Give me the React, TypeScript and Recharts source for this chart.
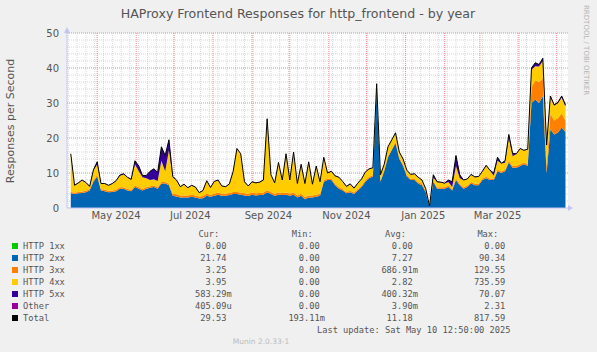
import { ComposedChart, Area, Line, XAxis, YAxis, ReferenceLine } from "recharts"

// one sample every 3 days, starting Apr 10 2024 (day 0 = Apr 7 2024)
const total = [15.5, 6.5, 7.2, 8.0, 7.3, 6.2, 10.9, 13.2, 7.0, 7.0, 6.5, 7.0, 7.8, 9.4, 9.8, 8.8, 8.2, 13.5, 12.0, 9.3, 9.3, 10.5, 11.2, 10.2, 17.5, 15.0, 19.5, 9.0, 8.0, 6.1, 6.8, 5.8, 6.5, 6.0, 4.4, 5.0, 7.8, 5.9, 7.6, 8.0, 6.3, 6.1, 6.9, 10.5, 17.0, 15.5, 7.5, 6.3, 7.5, 7.2, 7.4, 8.0, 25.5, 9.5, 7.2, 13.0, 8.0, 15.5, 8.0, 16.0, 7.0, 12.5, 7.0, 13.2, 6.8, 12.0, 7.5, 14.5, 10.0, 10.5, 9.2, 8.8, 7.6, 6.2, 6.9, 5.7, 7.1, 8.3, 10.3, 11.2, 11.5, 35.5, 9.5, 12.5, 17.5, 19.5, 21.5, 16.0, 14.0, 10.8, 9.6, 9.8, 8.8, 8.0, 5.5, 0.5, 9.5, 7.5, 7.4, 7.1, 8.0, 7.5, 15.0, 9.5, 8.0, 8.3, 9.6, 8.9, 9.0, 10.5, 12.2, 10.8, 10.0, 14.5, 12.8, 13.5, 21.0, 15.6, 15.5, 17.0, 16.5, 16.8, 40.0, 41.5, 41.0, 42.8, 18.0, 32.0, 29.5, 30.2, 32.0, 29.5]
const http2xx = [4.2, 4.0, 4.2, 4.3, 4.5, 5.0, 7.5, 9.0, 5.0, 4.8, 4.5, 4.6, 4.8, 5.5, 5.5, 5.0, 4.8, 6.0, 5.5, 5.0, 5.5, 5.8, 6.0, 5.5, 7.0, 7.0, 6.5, 3.5, 3.3, 3.0, 3.0, 3.0, 3.2, 3.0, 2.7, 2.8, 3.5, 3.2, 3.5, 3.8, 3.5, 3.5, 3.7, 4.0, 4.0, 3.8, 3.6, 3.4, 3.8, 3.6, 3.7, 3.8, 4.5, 4.0, 3.5, 3.8, 3.7, 3.8, 3.5, 3.8, 3.0, 3.5, 2.5, 3.0, 3.0, 3.2, 3.5, 7.5, 8.0, 8.0, 6.5, 5.5, 5.0, 4.2, 4.5, 4.0, 5.0, 6.0, 7.5, 8.5, 9.0, 33.5, 7.5, 10.5, 14.5, 16.5, 18.5, 14.0, 12.0, 9.0, 8.0, 8.0, 7.0, 6.5, 4.5, 0.3, 7.5, 5.5, 5.5, 5.5, 6.0, 5.0, 8.0, 6.5, 5.5, 6.0, 7.0, 6.5, 6.5, 8.0, 8.5, 8.0, 8.0, 10.5, 10.0, 10.5, 13.0, 11.5, 11.5, 12.0, 12.5, 12.0, 30.0, 31.0, 30.0, 32.0, 10.0, 22.5, 21.0, 21.5, 23.0, 21.7]
const http3xx = [0.4, 0.4, 0.4, 0.4, 0.4, 0.4, 0.4, 0.4, 0.4, 0.4, 0.4, 0.4, 0.4, 0.4, 0.4, 0.4, 0.4, 0.4, 0.4, 0.4, 0.4, 0.4, 0.4, 0.4, 0.4, 0.4, 0.4, 0.6, 0.6, 0.6, 0.6, 0.6, 0.6, 0.6, 0.6, 0.6, 0.6, 0.6, 0.6, 0.6, 0.6, 0.6, 0.6, 0.6, 0.6, 0.6, 0.6, 0.6, 0.6, 0.6, 0.6, 0.6, 0.6, 0.6, 0.6, 0.6, 0.6, 0.6, 0.6, 0.6, 0.6, 0.6, 0.6, 0.6, 0.6, 0.6, 0.6, 0.4, 0.4, 0.4, 0.4, 0.4, 0.4, 0.4, 0.4, 0.4, 0.4, 0.4, 0.4, 0.4, 0.4, 0.4, 0.4, 0.4, 0.4, 0.4, 0.4, 0.4, 0.4, 0.4, 0.4, 0.4, 0.4, 0.4, 0.4, 0.1, 0.4, 0.4, 0.4, 0.4, 0.4, 0.4, 0.4, 0.4, 0.4, 0.4, 0.4, 0.4, 0.4, 0.4, 0.4, 0.4, 0.4, 0.4, 0.4, 0.4, 0.5, 0.5, 0.5, 0.5, 0.5, 0.5, 4.5, 5.5, 6.0, 5.0, 2.0, 4.5, 4.0, 4.2, 4.0, 3.3]
const http4xx = [10.8, 2.0, 2.5, 3.2, 2.3, 0.7, 2.8, 3.0, 1.5, 1.7, 1.5, 1.9, 2.5, 3.3, 3.7, 3.3, 2.9, 6.1, 4.6, 3.4, 2.6, 1.8, 1.8, 1.8, 6.1, 3.1, 9.6, 4.6, 4.0, 2.4, 3.1, 2.1, 2.6, 2.3, 1.0, 1.5, 3.6, 2.0, 3.4, 3.5, 2.1, 1.9, 2.5, 5.8, 12.3, 11.0, 3.2, 2.2, 3.0, 2.9, 3.0, 3.5, 20.3, 4.8, 3.0, 8.5, 3.6, 11.0, 3.8, 11.5, 3.3, 8.3, 3.8, 9.5, 3.1, 8.1, 3.3, 6.5, 1.5, 2.0, 2.2, 2.8, 2.1, 1.5, 1.9, 1.2, 1.6, 1.8, 2.3, 2.2, 2.0, 1.5, 1.5, 1.5, 2.5, 2.5, 2.5, 1.5, 1.5, 1.3, 1.1, 1.3, 1.3, 1.0, 0.5, 0.1, 0.8, 1.5, 1.4, 1.1, 1.0, 0.6, 3.6, 1.6, 2.0, 1.8, 2.1, 1.9, 2.0, 2.0, 3.2, 2.3, 0.8, 2.6, 2.3, 2.0, 6.5, 2.8, 3.4, 4.4, 3.4, 4.2, 5.0, 4.0, 4.4, 5.0, 5.8, 4.7, 4.2, 4.2, 4.6, 3.9]
const http5xx = [0.1, 0.1, 0.1, 0.1, 0.1, 0.1, 0.2, 0.8, 0.1, 0.1, 0.1, 0.1, 0.1, 0.2, 0.2, 0.1, 0.1, 1.0, 1.5, 0.5, 0.8, 2.5, 3.0, 2.5, 4.0, 4.5, 3.0, 0.3, 0.1, 0.1, 0.1, 0.1, 0.1, 0.1, 0.1, 0.1, 0.1, 0.1, 0.1, 0.1, 0.1, 0.1, 0.1, 0.1, 0.1, 0.1, 0.1, 0.1, 0.1, 0.1, 0.1, 0.1, 0.1, 0.1, 0.1, 0.1, 0.1, 0.1, 0.1, 0.1, 0.1, 0.1, 0.1, 0.1, 0.1, 0.1, 0.1, 0.1, 0.1, 0.1, 0.1, 0.1, 0.1, 0.1, 0.1, 0.1, 0.1, 0.1, 0.1, 0.1, 0.1, 0.1, 0.1, 0.1, 0.1, 0.1, 0.1, 0.1, 0.1, 0.1, 0.1, 0.1, 0.1, 0.1, 0.1, 0.0, 0.8, 0.1, 0.1, 0.1, 0.6, 1.5, 3.0, 1.0, 0.1, 0.1, 0.1, 0.1, 0.1, 0.1, 0.1, 0.1, 0.8, 1.0, 0.1, 0.6, 1.0, 0.8, 0.1, 0.1, 0.1, 0.1, 0.5, 1.0, 0.6, 0.8, 0.2, 0.3, 0.3, 0.3, 0.4, 0.6]

const monthStarts = [24, 55, 85, 116, 147, 177, 208, 238, 269, 300, 328, 359, 389]
const labelDays = [39, 98, 160, 222, 283, 342]
const labelNames = ["May 2024", "Jul 2024", "Sep 2024", "Nov 2024", "Jan 2025", "Mar 2025"]
const yTicks = [0, 10, 20, 30, 40, 50]
const yMinor = [2, 4, 6, 8, 12, 14, 16, 18, 22, 24, 26, 28, 32, 34, 36, 38, 42, 44, 46, 48]
const weekLines = Array.from({ length: 57 }, (_, k) => 1 + 7 * k)

const legendNames = ["HTTP 1xx", "HTTP 2xx", "HTTP 3xx", "HTTP 4xx", "HTTP 5xx", "Other", "Total"]
const legendColors = ["#00cc00", "#0066b3", "#ff8000", "#ffcc00", "#330099", "#990099", "#000000"]
const curVals = ["0.00 ", "21.74 ", "3.25 ", "3.95 ", "583.29m", "405.09u", "29.53 "]
const minVals = ["0.00 ", "0.00 ", "0.00 ", "0.00 ", "0.00 ", "0.00 ", "193.11m"]
const avgVals = ["0.00 ", "7.27 ", "686.91m", "2.82 ", "400.32m", "3.90m", "11.18 "]
const maxVals = ["0.00 ", "90.34 ", "129.55 ", "735.59 ", "70.07 ", "2.31 ", "817.59 "]

const W = 597
const H = 352
const MINOR = "#d6d6d6"
const MAJOR = "#f08a8a"
const AXIS = "#c4c4f0"
const TXT = "#555"
const mono = "'DejaVu Sans Mono', monospace"
const sans = "'DejaVu Sans', sans-serif"
const MARGIN = { top: 33, right: 29, bottom: 124, left: 37 }

export default function App() {
    const data = total.map((t, i) => ({
        day: (i + 1) * 3,
        h2: http2xx[i],
        h3: http3xx[i],
        h4: http4xx[i],
        h5: http5xx[i],
        total: t,
    }))

    const xAxis = (show: boolean) => (
        <XAxis dataKey="day" type="number" domain={[0, 398]} ticks={labelDays} interval={0}
          allowDataOverflow
          tickFormatter={(d: number) => labelNames[labelDays.indexOf(d)]}
          tickLine={false} tickSize={2} tickMargin={2} height={20}
          axisLine={show ? { stroke: AXIS } : false}
          tick={show ? { fill: TXT, fontSize: 10, fontFamily: sans } : false} />
    )
    const yAxis = (show: boolean) => (
        <YAxis type="number" domain={[0, 50]} ticks={yTicks} interval={0} width={30}
          allowDataOverflow
          tickLine={false} axisLine={show ? { stroke: AXIS } : false}
          tick={show ? { fill: TXT, fontSize: 10, fontFamily: sans } : false} />
    )

    const cell = (top: number, edge: number, s: string) => (
        <div style={{ position: "absolute", top, right: W - edge, whiteSpace: "pre", lineHeight: "12px" }}>{s}</div>
    )

    return (
        <div style={{ position: "fixed", left: 0, top: 0, width: W, height: H, background: "#f0f0f0", overflow: "hidden" }}>
          <div style={{ position: "absolute", left: 67, top: 33, width: 501, height: 175, background: "#fff" }} />

          {/* grid, drawn underneath the data */}
          <div style={{ position: "absolute", left: 0, top: 0 }}>
            <ComposedChart width={W} height={H} data={data} margin={MARGIN}>
              {xAxis(false)}
              {yAxis(false)}
              <Line dataKey="total" type="linear" stroke="none" dot={false} isAnimationActive={false} />
              {yMinor.map(v => <ReferenceLine key={"ym" + v} y={v} stroke={MINOR} strokeDasharray="1 1" />)}
              {weekLines.map(v => <ReferenceLine key={"xm" + v} x={v} stroke={MINOR} strokeDasharray="1 1" />)}
              {yTicks.slice(1).map(v => <ReferenceLine key={"yM" + v} y={v} stroke={MAJOR} strokeDasharray="1 1" />)}
              {monthStarts.map(v => <ReferenceLine key={"xM" + v} x={v} stroke={MAJOR} strokeDasharray="1 1" />)}
            </ComposedChart>
          </div>

          <div style={{ position: "absolute", left: 0, top: 0 }}>
            <ComposedChart width={W} height={H} data={data} margin={MARGIN}>
              {xAxis(true)}
              {yAxis(true)}
              <Area dataKey="h2" stackId="s" type="linear" stroke="none" fill="#0066b3" fillOpacity={1} isAnimationActive={false} />
              <Area dataKey="h3" stackId="s" type="linear" stroke="none" fill="#ff8000" fillOpacity={1} isAnimationActive={false} />
              <Area dataKey="h4" stackId="s" type="linear" stroke="none" fill="#ffcc00" fillOpacity={1} isAnimationActive={false} />
              <Area dataKey="h5" stackId="s" type="linear" stroke="none" fill="#330099" fillOpacity={1} isAnimationActive={false} />
              <Line dataKey="total" type="linear" stroke="#000" strokeWidth={1} dot={false} isAnimationActive={false} />
            </ComposedChart>
          </div>

          <svg width={W} height={H} style={{ position: "absolute", left: 0, top: 0, pointerEvents: "none" }}>
            <text x={298} y={18} textAnchor="middle" fontSize={12.6} fill={TXT} fontFamily={sans}>
              HAProxy Frontend Responses for http_frontend - by year
            </text>
            <text transform="translate(14,121) rotate(-90)" textAnchor="middle" fontSize={11} fill={TXT} fontFamily={sans}>
              Responses per Second
            </text>
            <text transform="translate(584,5) rotate(90)" textAnchor="start" fontSize={7} fill="#b4b4b4" fontFamily={sans}>
              RRDTOOL / TOBI OETIKER
            </text>
            <polygon points="568,205 573,208 568,211" fill={AXIS} />
            <polygon points="64,33 67,27 70,33" fill={AXIS} />
          </svg>

          <div style={{ position: "absolute", left: 0, top: 0, width: W, height: H, fontFamily: mono, fontSize: 8.7, color: TXT }}>
            {cell(227.7, 219.3, "Cur:")}
            {cell(227.7, 312.7, "Min:")}
            {cell(227.7, 406, "Avg:")}
            {cell(227.7, 498.3, "Max:")}
            {legendNames.map((n, i) => {
                const cy = 245.7 + 12 * i
                return (
                    <div key={n}>
                      <div style={{ position: "absolute", left: 12, top: cy - 3, width: 6, height: 6, background: legendColors[i] }} />
                      <div style={{ position: "absolute", left: 23, top: cy - 6, whiteSpace: "pre", lineHeight: "12px" }}>{n}</div>
                      {cell(cy - 6, 231.7, curVals[i])}
                      {cell(cy - 6, 325, minVals[i])}
                      {cell(cy - 6, 418, avgVals[i])}
                      {cell(cy - 6, 510.5, maxVals[i])}
                    </div>
                )
            })}
            {cell(323.7, 510.5, "Last update: Sat May 10 12:50:00 2025")}
            <div style={{ position: "absolute", left: 0, width: 522, top: 336, textAlign: "center", fontFamily: sans, fontSize: 7.5, color: "#bbb", lineHeight: "12px" }}>
              Munin 2.0.33-1
            </div>
          </div>
        </div>
    )
}
